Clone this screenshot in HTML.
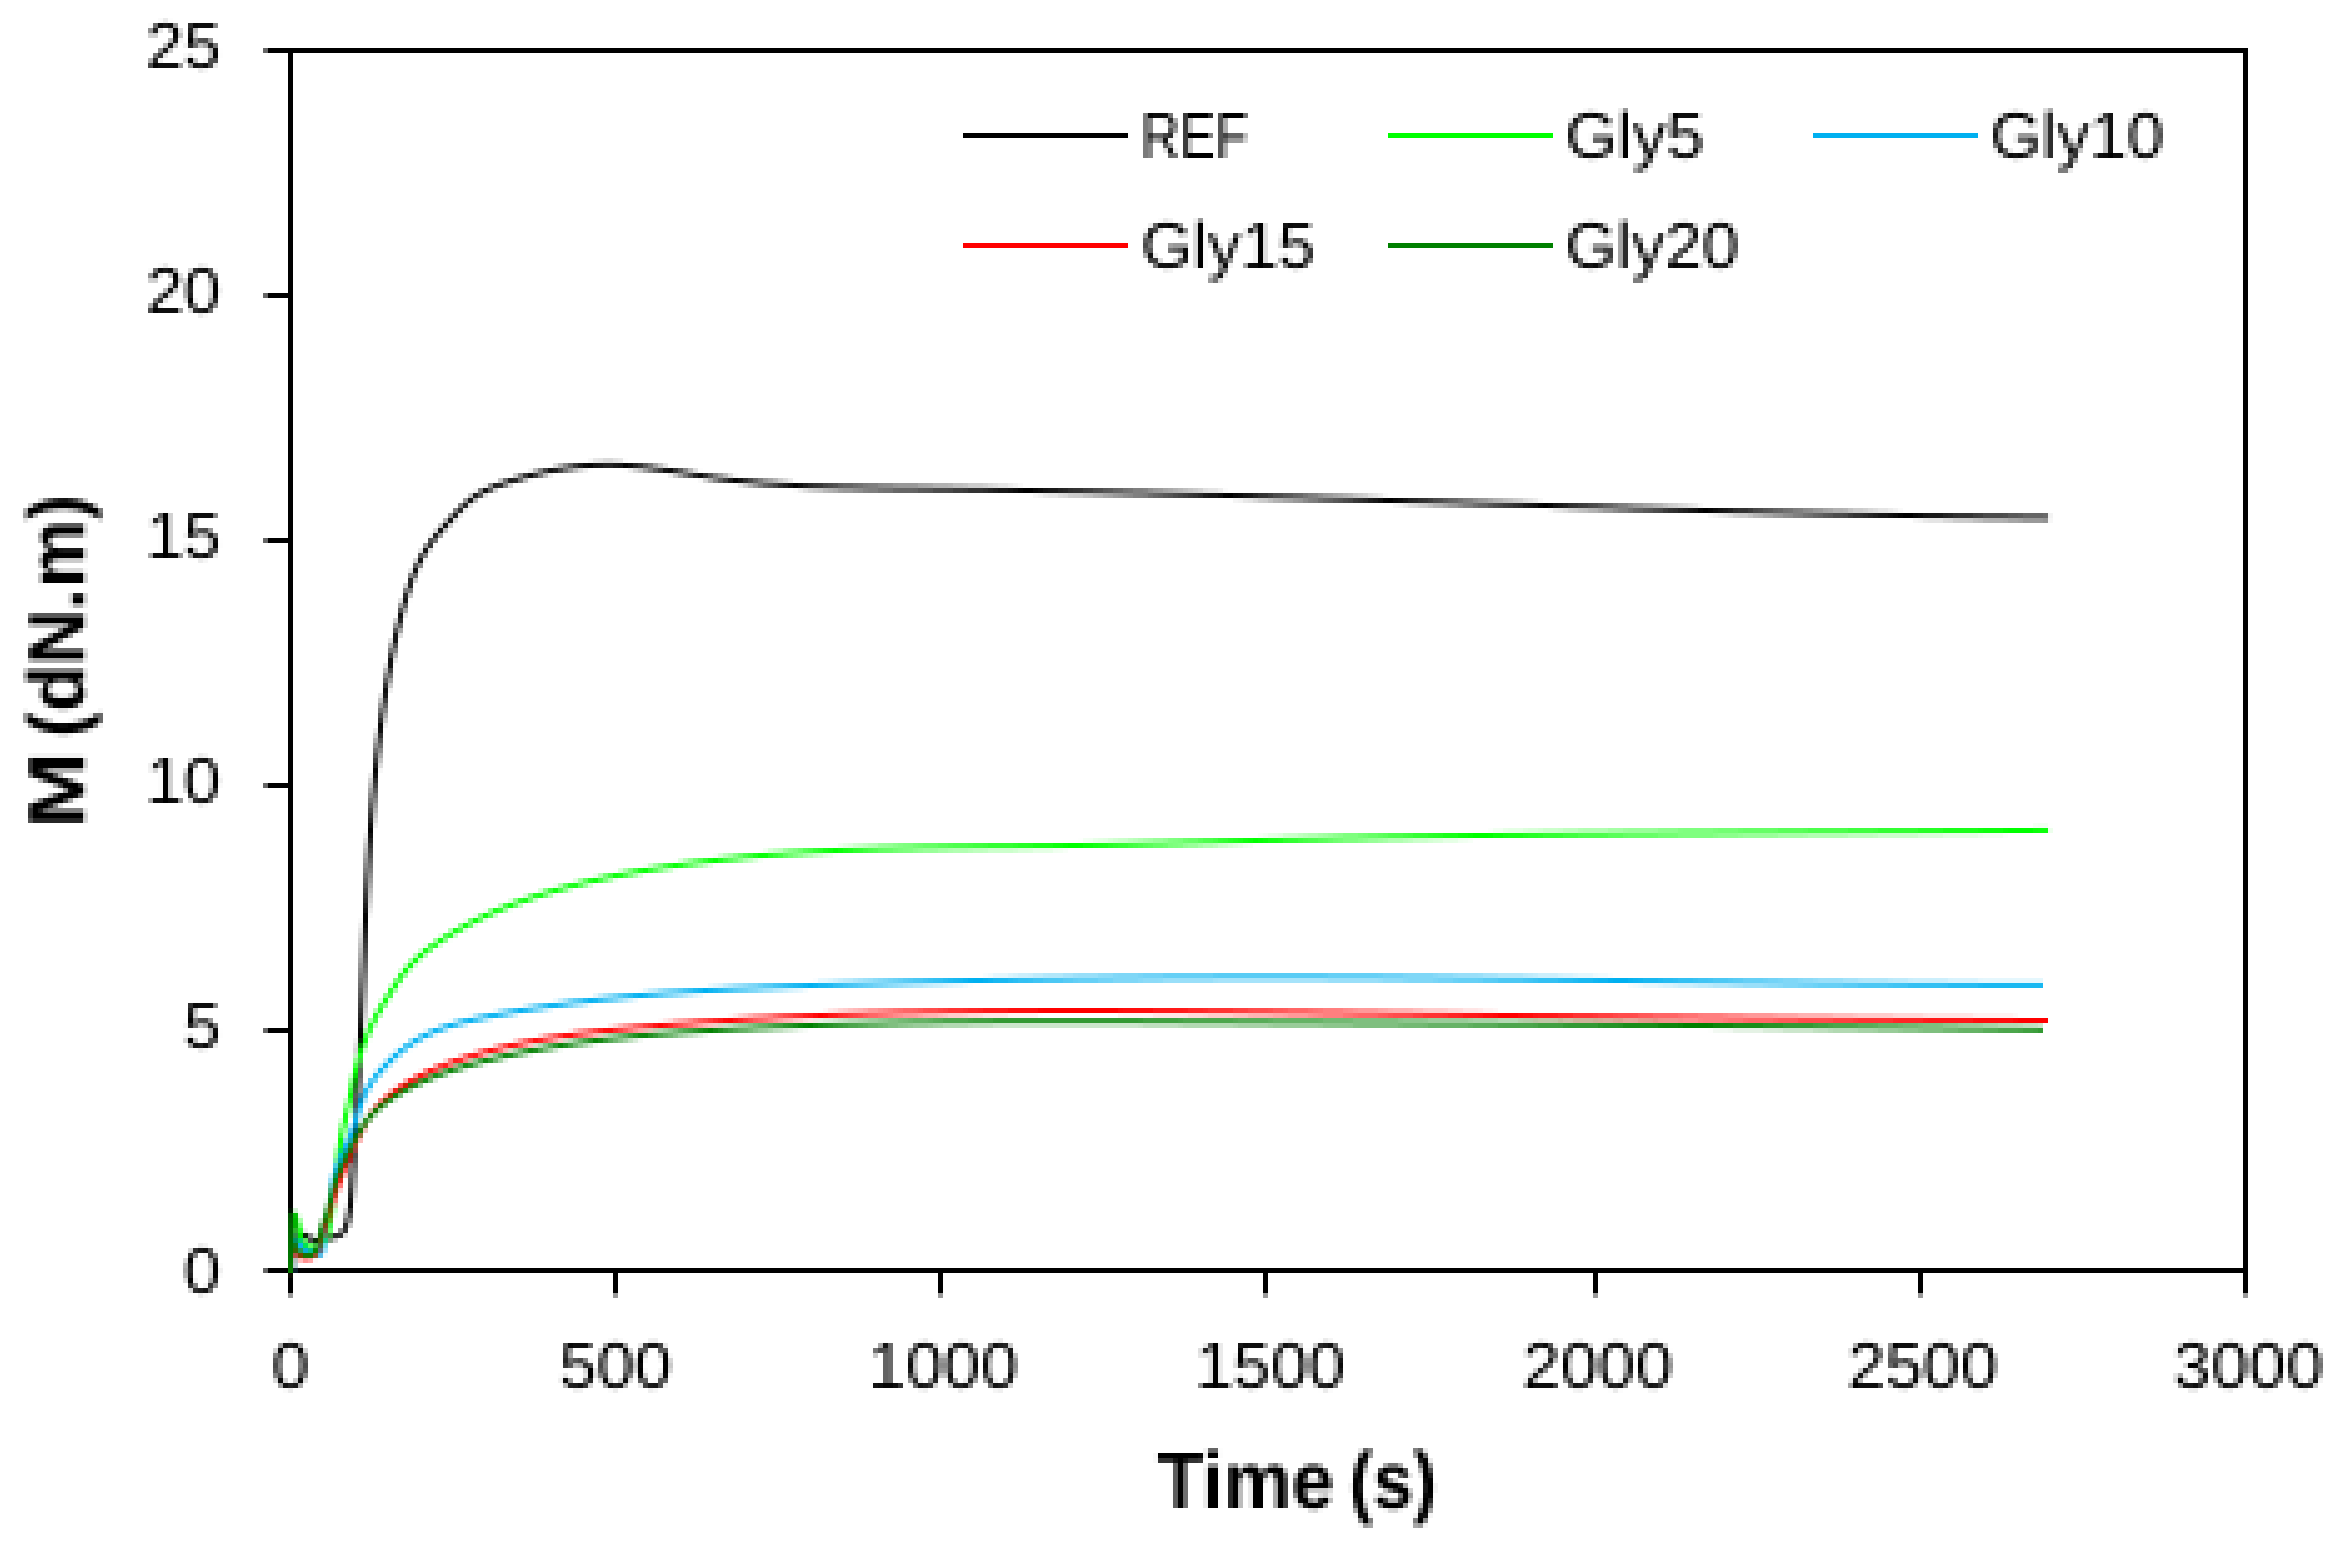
<!DOCTYPE html>
<html lang="en">
<head>
<meta charset="utf-8">
<title>Torque curves</title>
<style>
html,body{margin:0;padding:0;background:#fff;}
body{width:2346px;height:1543px;overflow:hidden;}
svg{display:block;}
text{font-family:"Liberation Sans", sans-serif;fill:#000;}
.tick{font-size:65.5px;}
.leg{font-size:65.5px;}
.ttl{font-size:80px;font-weight:bold;}
.ax{stroke:#000;stroke-width:5;fill:none;shape-rendering:crispEdges;}
.cv{fill:none;stroke-width:5;stroke-linejoin:round;stroke-linecap:butt;}
</style>
</head>
<body>
<svg width="2346" height="1543" viewBox="0 0 2346 1543">
<defs>
<filter id="pix" x="0" y="0" width="2346" height="1543" filterUnits="userSpaceOnUse" color-interpolation-filters="sRGB">
<feConvolveMatrix in="SourceGraphic" order="5 5" kernelMatrix="1 1 1 1 1 1 1 1 1 1 1 1 1 1 1 1 1 1 1 1 1 1 1 1 1" divisor="25" edgeMode="duplicate" preserveAlpha="false" result="avg"/>
<feFlood x="0" y="0" width="1" height="1" flood-color="#000" result="dot"/>
<feComposite in="dot" in2="dot" operator="over" x="0" y="0" width="5" height="5" result="cell"/>
<feTile in="cell" result="grid"/>
<feComposite in="avg" in2="grid" operator="in" result="samp"/>
<feMorphology in="samp" operator="dilate" radius="2"/>
</filter>
</defs>
<g filter="url(#pix)">
<rect x="0" y="0" width="2346" height="1543" fill="#ffffff"/>
<g id="axes">
<rect x="288" y="48" width="5" height="1247" fill="#000"/>
<rect x="2243" y="48" width="5" height="1247" fill="#000"/>
<rect x="265" y="48" width="1983" height="5" fill="#000"/>
<rect x="265" y="1268" width="1983" height="5" fill="#000"/>
<rect x="265" y="293" width="25" height="5" fill="#000"/>
<rect x="265" y="538" width="25" height="5" fill="#000"/>
<rect x="265" y="783" width="25" height="5" fill="#000"/>
<rect x="265" y="1028" width="25" height="5" fill="#000"/>
<rect x="613" y="1270" width="5" height="25" fill="#000"/>
<rect x="938" y="1270" width="5" height="25" fill="#000"/>
<rect x="1263" y="1270" width="5" height="25" fill="#000"/>
<rect x="1593" y="1270" width="5" height="25" fill="#000"/>
<rect x="1918" y="1270" width="5" height="25" fill="#000"/>
</g>
<g id="curves">
<path class="cv" stroke="#000000" d="M290.5 1270.5L291.0 1269.0L291.5 1267.5L291.8 1265.9L291.9 1265.7L292.1 1264.4L292.3 1262.9L292.5 1261.4L292.5 1260.9L292.6 1259.8L292.8 1258.3L292.9 1256.8L292.9 1256.1L293.0 1255.3L293.1 1253.7L293.3 1252.2L293.4 1251.3L293.4 1250.7L293.7 1249.2L294.0 1247.7L294.3 1246.6L294.4 1246.2L294.8 1244.7L295.4 1243.2L296.0 1241.9L296.0 1241.7L296.8 1240.2L297.7 1238.8L298.8 1237.4L298.8 1237.3L299.9 1236.2L301.1 1235.3L302.4 1234.8L302.6 1234.7L303.7 1234.7L305.1 1235.1L306.4 1235.9L306.9 1236.2L307.8 1236.8L309.1 1237.7L310.5 1238.7L311.1 1239.1L311.8 1239.5L313.2 1240.0L314.7 1240.3L315.7 1240.4L316.2 1240.4L317.8 1240.4L319.3 1240.2L320.6 1240.0L320.9 1239.9L322.4 1239.6L323.9 1239.3L325.4 1239.0L325.5 1239.0L327.0 1238.7L328.5 1238.3L329.9 1238.0L330.1 1238.0L331.4 1237.6L332.9 1237.2L334.4 1236.8L334.8 1236.7L335.9 1236.3L337.4 1235.7L338.9 1235.1L339.4 1234.8L340.2 1234.4L341.5 1233.5L342.6 1232.5L343.1 1231.9L343.6 1231.4L344.4 1230.1L345.1 1228.8L345.6 1227.8L345.8 1227.3L346.4 1225.8L346.8 1224.3L347.2 1222.9L347.3 1222.7L347.7 1221.1L348.0 1219.4L348.3 1217.8L348.3 1217.8L348.6 1216.2L348.9 1214.6L349.2 1213.0L349.2 1212.8L349.4 1211.4L349.7 1209.8L349.9 1208.2L350.0 1207.8L350.1 1206.7L350.3 1205.1L350.5 1203.6L350.6 1202.9L350.7 1202.0L350.8 1200.5L351.0 1199.0L351.1 1198.1L351.1 1197.4L351.3 1195.9L351.4 1194.4L351.5 1193.3L351.5 1192.9L351.6 1191.4L351.7 1189.9L351.8 1188.6L351.8 1188.4L352.0 1186.9L352.1 1185.4L352.2 1183.9L352.2 1183.8L352.2 1182.4L352.3 1180.9L352.4 1179.4L352.5 1179.1L352.5 1177.9L352.6 1176.3L352.7 1174.8L352.8 1174.4L352.8 1173.3L352.9 1171.8L353.0 1170.3L353.1 1169.6L353.1 1168.8L353.2 1167.3L353.3 1165.8L353.4 1164.8L353.4 1164.3L353.5 1162.8L353.6 1161.2L353.7 1160.1L353.7 1159.7L353.8 1158.2L353.9 1156.7L353.9 1155.3L354.0 1155.2L354.0 1153.7L354.1 1152.1L354.2 1150.6L354.2 1150.5L354.3 1149.1L354.4 1147.6L354.5 1146.1L354.5 1145.7L354.6 1144.5L354.7 1143.0L354.8 1141.5L354.8 1140.9L354.9 1140.0L355.0 1138.4L355.1 1136.9L355.1 1136.1L355.1 1135.4L355.2 1133.8L355.3 1132.3L355.4 1131.3L355.4 1130.8L355.5 1129.3L355.6 1127.7L355.7 1126.5L355.7 1126.2L355.8 1124.7L355.9 1123.1L355.9 1121.7L355.9 1121.6L356.0 1120.1L356.1 1118.5L356.2 1117.0L356.2 1116.8L356.3 1115.5L356.4 1113.9L356.5 1112.4L356.5 1112.0L356.6 1110.9L356.6 1109.3L356.7 1107.8L356.8 1107.2L356.8 1106.3L356.9 1104.7L357.0 1103.2L357.0 1102.3L357.1 1101.6L357.2 1100.1L357.2 1098.6L357.3 1097.5L357.3 1097.0L357.4 1095.5L357.5 1093.9L357.6 1092.6L357.6 1092.4L357.7 1090.9L357.7 1089.3L357.8 1087.8L357.8 1087.8L357.9 1086.2L358.0 1084.7L358.1 1083.1L358.1 1082.9L358.1 1081.6L358.2 1080.1L358.3 1078.5L358.3 1078.0L358.4 1077.0L358.5 1075.4L358.6 1073.9L358.6 1073.2L358.6 1072.3L358.7 1070.8L358.8 1069.2L358.8 1068.3L358.9 1067.7L358.9 1066.1L359.0 1064.6L359.1 1063.4L359.1 1063.0L359.2 1061.5L359.3 1060.0L359.3 1058.6L359.3 1058.4L359.4 1056.9L359.5 1055.3L359.6 1053.8L359.6 1053.7L359.6 1052.2L359.7 1050.7L359.8 1049.1L359.8 1048.8L359.9 1047.6L359.9 1046.0L360.0 1044.5L360.0 1043.9L360.1 1042.9L360.2 1041.4L360.2 1039.8L360.3 1039.1L360.3 1038.3L360.4 1036.7L360.5 1035.2L360.5 1034.2L360.5 1033.6L360.6 1032.1L360.7 1030.5L360.7 1029.3L360.7 1029.0L360.8 1027.4L360.9 1025.9L361.0 1024.4L361.0 1024.3L361.0 1022.8L361.1 1021.2L361.2 1019.7L361.2 1019.5L361.2 1018.1L361.3 1016.6L361.4 1015.0L361.4 1014.7L361.4 1013.5L361.5 1011.9L361.6 1010.4L361.6 1009.8L361.6 1008.8L361.7 1007.3L361.8 1005.7L361.8 1004.9L361.8 1004.2L361.9 1002.6L362.0 1001.1L362.0 1000.0L362.0 999.6L362.1 998.0L362.2 996.5L362.2 995.2L362.2 994.9L362.3 993.4L362.4 991.8L362.4 990.3L362.4 990.3L362.5 988.7L362.6 987.2L362.6 985.6L362.6 985.4L362.7 984.1L362.8 982.5L362.8 981.0L362.8 980.5L362.9 979.4L362.9 977.9L363.0 976.3L363.0 975.7L363.1 974.8L363.1 973.2L363.2 971.7L363.2 970.8L363.3 970.1L363.3 968.6L363.4 967.0L363.4 965.9L363.5 965.5L363.5 963.9L363.6 962.4L363.7 961.0L363.7 960.9L363.7 959.3L363.8 957.8L363.9 956.2L363.9 956.2L363.9 954.7L364.0 953.1L364.1 951.6L364.1 951.3L364.1 950.0L364.2 948.5L364.2 946.9L364.3 946.4L364.3 945.4L364.4 943.8L364.4 942.3L364.5 941.5L364.5 940.7L364.6 939.2L364.6 937.6L364.7 936.7L364.7 936.1L364.8 934.6L364.9 933.0L364.9 931.8L364.9 931.5L365.0 929.9L365.1 928.4L365.1 926.9L365.1 926.8L365.2 925.3L365.3 923.7L365.3 922.2L365.3 922.1L365.4 920.6L365.5 919.1L365.5 917.6L365.6 917.2L365.6 916.0L365.8 912.3L366.0 907.5L366.3 902.6L366.5 897.8L366.7 892.9L367.0 888.0L367.3 883.2L367.5 878.3L367.8 873.5L368.1 868.6L368.3 863.7L368.6 858.9L368.9 854.0L369.2 849.2L369.5 844.3L369.9 839.5L370.2 834.6L370.5 829.8L370.9 824.9L371.3 820.1L371.6 815.3L372.0 810.4L372.4 805.6L372.8 800.7L373.2 795.9L373.6 791.1L374.1 786.2L374.5 781.4L375.0 776.6L375.5 771.7L376.0 766.9L376.5 762.1L377.0 757.3L377.5 752.5L378.1 747.6L378.6 742.8L379.2 738.0L379.8 733.2L380.4 728.4L381.0 723.6L381.7 718.8L382.3 713.9L383.0 709.1L383.7 704.3L384.4 699.5L385.1 694.7L385.9 689.9L386.6 685.2L387.4 680.4L388.2 675.6L389.1 670.8L389.9 666.0L390.8 661.2L391.7 656.4L392.7 651.7L393.6 646.9L394.6 642.1L395.7 637.4L396.7 632.6L397.9 627.9L399.0 623.1L400.2 618.4L401.4 613.6L402.7 608.9L404.0 604.2L405.3 599.4L406.7 594.7L408.2 590.0L409.7 585.3L411.3 580.7L413.0 576.1L414.8 571.6L416.8 567.2L418.8 562.8L421.0 558.5L423.3 554.3L425.8 550.2L428.4 546.2L431.2 542.4L434.1 538.6L437.2 534.8L440.3 531.1L443.5 527.5L446.8 523.8L450.1 520.2L453.4 516.5L456.8 512.8L460.2 509.2L463.8 505.8L467.4 502.5L471.2 499.4L475.1 496.7L479.1 494.1L483.3 491.8L487.5 489.7L491.9 487.8L496.3 486.0L500.8 484.4L505.4 482.8L510.0 481.4L514.6 479.9L519.3 478.5L524.0 477.2L528.7 475.9L533.4 474.7L538.2 473.6L543.0 472.4L547.8 471.4L552.6 470.4L557.4 469.5L562.2 468.7L567.1 467.9L571.9 467.2L576.8 466.6L581.7 466.1L586.5 465.7L591.4 465.3L596.3 465.1L601.1 464.9L606.0 464.8L610.8 464.8L615.7 464.9L620.5 465.1L625.4 465.4L630.2 465.7L635.0 466.2L639.8 466.6L644.6 467.2L649.5 467.8L654.3 468.4L659.1 469.1L663.9 469.8L668.7 470.5L673.5 471.2L678.3 472.0L683.1 472.8L687.9 473.6L692.7 474.4L697.5 475.1L702.3 475.9L707.1 476.6L711.9 477.4L716.8 478.1L721.6 478.7L726.4 479.3L731.2 479.9L736.0 480.5L740.9 481.1L745.7 481.6L750.5 482.1L755.3 482.5L760.2 483.0L765.0 483.4L769.8 483.8L774.7 484.1L779.5 484.5L784.4 484.8L789.2 485.1L794.1 485.4L798.9 485.7L803.8 485.9L808.6 486.2L813.5 486.4L818.3 486.6L823.2 486.8L828.0 486.9L832.9 487.1L837.7 487.3L842.6 487.4L847.5 487.5L852.3 487.6L857.2 487.7L862.0 487.8L866.9 487.9L871.8 488.0L876.6 488.1L881.5 488.2L886.4 488.2L891.2 488.3L896.1 488.4L901.0 488.4L905.8 488.5L910.7 488.6L915.6 488.6L920.4 488.7L925.3 488.7L930.2 488.8L935.0 488.9L939.9 488.9L944.8 489.0L949.6 489.1L954.5 489.2L959.3 489.2L964.2 489.3L969.1 489.4L973.9 489.5L978.8 489.6L983.7 489.6L988.5 489.7L993.4 489.8L998.3 489.9L1003.1 490.0L1008.0 490.1L1012.9 490.2L1017.7 490.3L1022.6 490.4L1027.4 490.5L1032.3 490.6L1037.2 490.7L1042.0 490.8L1046.9 490.9L1051.8 491.0L1056.6 491.1L1061.5 491.2L1066.4 491.3L1071.2 491.4L1076.1 491.5L1080.9 491.6L1085.8 491.7L1090.7 491.8L1095.5 491.9L1100.4 492.1L1105.3 492.2L1110.1 492.3L1115.0 492.4L1119.9 492.5L1124.7 492.7L1129.6 492.8L1134.4 492.9L1139.3 493.0L1144.2 493.1L1149.0 493.3L1153.9 493.4L1158.8 493.5L1163.6 493.7L1168.5 493.8L1173.3 493.9L1178.2 494.1L1183.1 494.2L1187.9 494.3L1192.8 494.5L1197.6 494.6L1202.5 494.7L1207.4 494.9L1212.2 495.0L1217.1 495.1L1222.0 495.3L1226.8 495.4L1231.7 495.6L1236.5 495.7L1241.4 495.8L1246.3 496.0L1251.1 496.1L1256.0 496.3L1260.8 496.4L1265.7 496.6L1270.6 496.7L1275.4 496.9L1280.3 497.0L1285.2 497.2L1290.0 497.3L1294.9 497.5L1299.7 497.6L1304.6 497.8L1309.5 497.9L1314.3 498.1L1319.2 498.2L1324.0 498.4L1328.9 498.5L1333.8 498.7L1338.6 498.8L1343.5 499.0L1348.3 499.1L1353.2 499.3L1358.1 499.4L1362.9 499.6L1367.8 499.7L1372.7 499.9L1377.5 500.1L1382.4 500.2L1387.2 500.4L1392.1 500.5L1397.0 500.7L1401.8 500.8L1406.7 501.0L1411.5 501.2L1416.4 501.3L1421.3 501.5L1426.1 501.6L1431.0 501.8L1435.8 502.0L1440.7 502.1L1445.6 502.3L1450.4 502.4L1455.3 502.6L1460.1 502.7L1465.0 502.9L1469.9 503.1L1474.7 503.2L1479.6 503.4L1484.4 503.5L1489.3 503.7L1494.2 503.9L1499.0 504.0L1503.9 504.2L1508.7 504.3L1513.6 504.5L1518.5 504.6L1523.3 504.8L1528.2 505.0L1533.0 505.1L1537.9 505.3L1542.8 505.4L1547.6 505.6L1552.5 505.8L1557.3 505.9L1562.2 506.1L1567.1 506.2L1571.9 506.4L1576.8 506.5L1581.7 506.7L1586.5 506.8L1591.4 507.0L1596.2 507.1L1601.1 507.3L1606.0 507.5L1610.8 507.6L1615.7 507.8L1620.5 507.9L1625.4 508.1L1630.3 508.2L1635.1 508.4L1640.0 508.5L1644.8 508.7L1649.7 508.8L1654.6 509.0L1659.4 509.1L1664.3 509.3L1669.1 509.4L1674.0 509.5L1678.9 509.7L1683.7 509.8L1688.6 510.0L1693.4 510.1L1698.3 510.3L1703.2 510.4L1708.0 510.5L1712.9 510.7L1717.8 510.8L1722.6 511.0L1727.5 511.1L1732.3 511.2L1737.2 511.4L1742.1 511.5L1746.9 511.6L1751.8 511.8L1756.6 511.9L1761.5 512.0L1766.4 512.2L1771.2 512.3L1776.1 512.4L1780.9 512.6L1785.8 512.7L1790.7 512.8L1795.5 512.9L1800.4 513.1L1805.3 513.2L1810.1 513.3L1815.0 513.4L1819.8 513.5L1824.7 513.7L1829.6 513.8L1834.4 513.9L1839.3 514.0L1844.2 514.1L1849.0 514.2L1853.9 514.4L1858.7 514.5L1863.6 514.6L1868.5 514.7L1873.3 514.8L1878.2 514.9L1883.0 515.0L1887.9 515.1L1892.8 515.2L1897.6 515.3L1902.5 515.4L1907.4 515.5L1912.2 515.6L1917.1 515.7L1922.0 515.8L1926.8 515.9L1931.7 516.0L1936.5 516.1L1941.4 516.1L1946.3 516.2L1951.1 516.3L1956.0 516.4L1960.9 516.5L1965.7 516.6L1970.6 516.6L1975.4 516.7L1980.3 516.8L1985.2 516.9L1990.0 516.9L1994.9 517.0L1999.8 517.1L2004.6 517.1L2009.5 517.2L2014.4 517.3L2019.2 517.3L2024.1 517.4L2029.0 517.5L2033.8 517.5L2038.7 517.6L2043.5 517.6L2048.4 517.7"/>
<path class="cv" stroke="#00ff00" d="M290.5 1270.5L290.8 1270.7L291.0 1270.7L291.1 1270.4L291.2 1270.3L291.4 1269.6L291.5 1268.7L291.6 1268.3L291.7 1267.5L291.8 1266.1L291.9 1264.4L291.9 1264.4L292.0 1262.6L292.1 1260.7L292.2 1259.2L292.2 1258.6L292.3 1256.3L292.3 1254.0L292.3 1253.0L292.4 1251.5L292.4 1249.0L292.5 1246.4L292.5 1246.2L292.5 1243.9L292.6 1241.3L292.6 1239.3L292.6 1238.7L292.7 1236.1L292.7 1233.6L292.8 1232.5L292.8 1231.1L292.9 1228.8L293.0 1226.5L293.0 1226.3L293.1 1224.4L293.2 1222.4L293.3 1221.0L293.3 1220.6L293.5 1219.0L293.6 1217.6L293.7 1217.0L293.8 1216.4L294.0 1215.4L294.3 1214.7L294.3 1214.7L294.5 1214.3L294.8 1214.2L295.1 1214.4L295.1 1214.5L295.5 1215.0L295.9 1216.0L296.1 1216.6L296.3 1217.2L296.7 1218.6L297.1 1220.2L297.2 1220.5L297.5 1221.9L297.9 1223.6L298.3 1225.0L298.3 1225.2L298.7 1226.8L299.1 1228.4L299.3 1229.2L299.4 1229.9L299.8 1231.4L300.2 1232.9L300.2 1233.3L300.6 1234.4L301.0 1235.9L301.4 1237.3L301.5 1237.4L302.0 1238.9L302.6 1240.3L303.0 1241.1L303.4 1241.7L304.2 1243.0L305.1 1244.1L305.4 1244.5L306.2 1245.2L307.5 1246.1L308.7 1246.9L308.8 1246.9L310.2 1247.5L311.7 1247.8L312.7 1247.9L313.2 1247.9L314.8 1247.8L316.4 1247.5L316.8 1247.4L317.9 1247.1L319.4 1246.5L320.8 1245.7L320.8 1245.7L322.1 1244.8L323.2 1243.8L323.9 1243.0L324.3 1242.6L325.1 1241.4L325.9 1240.1L326.1 1239.6L326.5 1238.7L327.0 1237.2L327.4 1235.7L327.4 1235.7L327.7 1234.2L328.0 1232.7L328.2 1231.6L328.3 1231.1L328.6 1229.6L328.8 1228.1L329.0 1227.5L329.1 1226.5L329.4 1225.0L329.6 1223.5L329.7 1223.4L329.9 1222.0L330.2 1220.4L330.3 1219.3L330.4 1218.9L330.6 1217.4L330.9 1215.9L331.0 1215.2L331.1 1214.3L331.3 1212.8L331.6 1211.3L331.6 1211.1L331.8 1209.8L332.0 1208.2L332.2 1207.0L332.2 1206.7L332.4 1205.2L332.6 1203.7L332.7 1202.9L332.8 1202.1L333.0 1200.6L333.2 1199.1L333.2 1198.8L333.4 1197.5L333.6 1196.0L333.7 1194.7L333.7 1194.5L333.9 1192.9L334.1 1191.4L334.2 1190.6L334.3 1189.9L334.4 1188.3L334.6 1186.8L334.7 1186.5L334.8 1185.3L335.0 1183.7L335.1 1182.4L335.1 1182.2L335.3 1180.7L335.5 1179.1L335.6 1178.3L335.6 1177.6L335.8 1176.0L336.0 1174.5L336.0 1174.2L336.2 1173.0L336.3 1171.4L336.5 1170.0L336.5 1169.9L336.7 1168.4L336.9 1166.8L337.0 1165.9L337.1 1165.3L337.3 1163.8L337.5 1162.2L337.5 1161.8L337.7 1160.7L337.9 1159.2L338.1 1157.7L338.1 1157.6L338.3 1156.1L338.5 1154.6L338.6 1153.6L338.7 1153.1L338.9 1151.5L339.2 1150.0L339.2 1149.5L339.4 1148.5L339.6 1146.9L339.9 1145.4L339.9 1145.4L340.1 1143.9L340.4 1142.4L340.6 1141.4L340.7 1140.9L340.9 1139.3L341.2 1137.8L341.3 1137.3L341.5 1136.3L341.8 1134.8L342.1 1133.3L342.1 1133.2L342.4 1131.8L342.7 1130.3L342.9 1129.2L343.0 1128.7L343.3 1127.2L343.7 1125.7L343.8 1125.1L344.0 1124.2L344.4 1122.7L344.7 1121.2L344.7 1121.1L345.1 1119.7L345.4 1118.2L345.7 1117.1L345.8 1116.7L346.1 1115.2L346.5 1113.7L346.7 1113.0L346.9 1112.2L347.2 1110.7L347.6 1109.2L347.6 1109.0L347.9 1107.7L348.3 1106.2L348.5 1105.0L348.6 1104.6L348.9 1103.1L349.3 1101.6L349.4 1100.9L349.6 1100.1L349.9 1098.6L350.2 1097.1L350.3 1096.9L350.5 1095.6L350.9 1094.1L351.1 1092.8L351.2 1092.5L351.5 1091.0L351.8 1089.5L351.9 1088.7L352.1 1088.0L352.4 1086.5L352.7 1085.0L352.7 1084.7L353.0 1083.5L353.3 1081.9L353.6 1080.6L353.6 1080.4L353.9 1078.9L354.3 1077.4L354.4 1076.6L354.6 1075.9L354.9 1074.4L355.2 1072.9L355.3 1072.6L355.6 1071.4L355.9 1069.9L356.2 1068.5L356.3 1068.4L356.6 1066.9L357.0 1065.4L357.2 1064.5L357.4 1063.9L357.8 1062.4L358.2 1060.9L358.3 1060.5L358.6 1059.5L359.0 1058.0L359.4 1056.6L359.4 1056.5L359.9 1055.0L360.3 1053.5L360.6 1052.6L360.8 1052.1L361.3 1050.6L361.8 1049.2L361.9 1048.7L362.3 1047.7L362.8 1046.2L363.3 1044.8L363.3 1044.8L363.8 1043.4L364.4 1041.9L364.7 1041.0L364.9 1040.5L365.5 1039.0L366.1 1037.6L366.3 1037.1L366.6 1036.2L367.2 1034.8L367.8 1033.3L367.9 1033.3L368.5 1031.9L369.1 1030.5L369.5 1029.5L369.7 1029.1L370.4 1027.7L371.0 1026.3L371.3 1025.8L371.7 1024.9L372.4 1023.6L373.1 1022.2L373.1 1022.1L373.8 1020.8L374.5 1019.4L375.0 1018.4L375.2 1018.1L375.9 1016.7L376.7 1015.3L377.0 1014.8L377.4 1014.0L378.2 1012.7L379.0 1011.3L379.0 1011.2L379.7 1010.0L380.5 1008.6L381.1 1007.6L381.3 1007.3L382.1 1006.0L382.9 1004.7L383.3 1004.1L383.7 1003.3L384.5 1002.0L385.3 1000.7L385.4 1000.5L386.1 999.4L387.0 998.1L387.6 997.0L387.8 996.8L388.6 995.5L389.4 994.2L389.9 993.5L390.3 992.9L391.1 991.6L391.9 990.3L392.1 990.0L392.8 989.0L393.6 987.7L394.3 986.5L394.4 986.4L395.3 985.1L396.1 983.8L396.6 983.1L397.0 982.5L397.8 981.2L398.7 980.0L398.9 979.7L399.6 978.7L400.5 977.5L401.3 976.3L401.4 976.2L402.3 975.0L403.2 973.8L403.7 973.0L404.1 972.5L405.0 971.3L406.0 970.1L406.3 969.8L407.0 969.0L408.0 967.8L408.9 966.7L411.7 963.7L414.6 960.8L417.6 958.0L420.7 955.3L423.9 952.6L427.2 950.1L430.5 947.6L433.9 945.2L437.4 942.8L440.8 940.5L444.3 938.2L447.8 936.0L451.3 933.8L454.9 931.7L458.5 929.7L462.1 927.6L465.7 925.7L469.3 923.7L473.0 921.8L476.7 920.0L480.4 918.2L484.1 916.4L487.9 914.7L491.7 913.0L495.4 911.4L499.2 909.8L503.1 908.2L506.9 906.7L510.7 905.2L514.6 903.7L518.5 902.3L522.4 900.9L526.3 899.6L530.2 898.2L534.1 896.9L538.0 895.6L542.0 894.4L545.9 893.2L549.9 892.0L553.9 890.8L557.8 889.7L561.8 888.6L565.8 887.5L569.8 886.4L573.8 885.4L577.8 884.4L581.8 883.4L585.9 882.4L589.9 881.4L593.9 880.5L598.0 879.6L602.0 878.7L606.1 877.8L610.1 877.0L614.2 876.1L618.2 875.3L622.3 874.5L626.4 873.7L630.4 873.0L634.5 872.2L638.6 871.5L642.7 870.8L646.7 870.1L650.8 869.4L654.9 868.7L659.0 868.1L663.1 867.4L667.2 866.8L671.3 866.2L675.4 865.6L679.5 865.0L683.6 864.4L687.7 863.8L691.8 863.3L695.9 862.7L700.0 862.2L704.1 861.7L708.2 861.2L712.3 860.7L716.4 860.2L720.5 859.7L724.7 859.3L728.8 858.8L732.9 858.4L737.0 857.9L741.1 857.5L745.2 857.1L749.3 856.7L753.5 856.3L757.6 855.9L761.7 855.6L765.8 855.2L769.9 854.8L774.1 854.5L778.2 854.2L782.3 853.9L786.4 853.5L790.5 853.2L794.7 852.9L798.8 852.7L802.9 852.4L807.1 852.1L811.2 851.9L815.3 851.6L819.4 851.4L823.6 851.1L827.7 850.9L831.8 850.7L836.0 850.5L840.1 850.3L844.2 850.1L848.4 849.9L852.5 849.7L856.6 849.5L860.8 849.4L864.9 849.2L869.0 849.1L873.2 848.9L877.3 848.8L881.4 848.6L885.6 848.5L889.7 848.4L893.8 848.3L898.0 848.2L902.1 848.1L906.2 848.0L910.4 847.9L914.5 847.8L918.7 847.7L922.8 847.6L926.9 847.5L931.1 847.4L935.2 847.4L939.4 847.3L943.5 847.2L947.6 847.2L951.8 847.1L955.9 847.0L960.0 847.0L964.2 846.9L968.3 846.9L972.5 846.8L976.6 846.8L980.8 846.7L984.9 846.7L989.0 846.6L993.2 846.6L997.3 846.5L1001.5 846.5L1005.6 846.5L1009.7 846.4L1013.9 846.4L1018.0 846.3L1022.2 846.3L1026.3 846.2L1030.4 846.2L1034.6 846.1L1038.7 846.1L1042.9 846.0L1047.0 846.0L1051.1 845.9L1055.3 845.8L1059.4 845.8L1063.6 845.7L1067.7 845.6L1071.8 845.6L1076.0 845.5L1080.1 845.4L1084.3 845.3L1088.4 845.3L1092.5 845.2L1096.7 845.1L1100.8 845.0L1104.9 844.9L1109.1 844.8L1113.2 844.7L1117.4 844.6L1121.5 844.5L1125.6 844.4L1129.8 844.3L1133.9 844.2L1138.0 844.1L1142.2 844.0L1146.3 843.8L1150.5 843.7L1154.6 843.6L1158.7 843.5L1162.9 843.4L1167.0 843.2L1171.1 843.1L1175.3 843.0L1179.4 842.9L1183.5 842.7L1187.7 842.6L1191.8 842.5L1196.0 842.4L1200.1 842.2L1204.2 842.1L1208.4 842.0L1212.5 841.9L1216.6 841.7L1220.8 841.6L1224.9 841.5L1229.0 841.3L1233.2 841.2L1237.3 841.1L1241.4 841.0L1245.6 840.8L1249.7 840.7L1253.9 840.6L1258.0 840.5L1262.1 840.3L1266.3 840.2L1270.4 840.1L1274.5 840.0L1278.7 839.9L1282.8 839.7L1286.9 839.6L1291.1 839.5L1295.2 839.4L1299.4 839.3L1303.5 839.2L1307.6 839.1L1311.8 839.0L1315.9 838.9L1320.0 838.8L1324.2 838.7L1328.3 838.5L1332.4 838.4L1336.6 838.3L1340.7 838.2L1344.9 838.1L1349.0 838.1L1353.1 838.0L1357.3 837.9L1361.4 837.8L1365.5 837.7L1369.7 837.6L1373.8 837.5L1378.0 837.4L1382.1 837.3L1386.2 837.2L1390.4 837.1L1394.5 837.1L1398.6 837.0L1402.8 836.9L1406.9 836.8L1411.1 836.7L1415.2 836.6L1419.3 836.6L1423.5 836.5L1427.6 836.4L1431.7 836.3L1435.9 836.3L1440.0 836.2L1444.2 836.1L1448.3 836.0L1452.4 836.0L1456.6 835.9L1460.7 835.8L1464.9 835.8L1469.0 835.7L1473.1 835.6L1477.3 835.6L1481.4 835.5L1485.5 835.4L1489.7 835.4L1493.8 835.3L1498.0 835.2L1502.1 835.2L1506.2 835.1L1510.4 835.1L1514.5 835.0L1518.7 834.9L1522.8 834.9L1526.9 834.8L1531.1 834.8L1535.2 834.7L1539.3 834.7L1543.5 834.6L1547.6 834.5L1551.8 834.5L1555.9 834.4L1560.0 834.4L1564.2 834.3L1568.3 834.3L1572.5 834.2L1576.6 834.2L1580.7 834.1L1584.9 834.1L1589.0 834.0L1593.1 834.0L1597.3 834.0L1601.4 833.9L1605.6 833.9L1609.7 833.8L1613.8 833.8L1618.0 833.7L1622.1 833.7L1626.3 833.6L1630.4 833.6L1634.5 833.6L1638.7 833.5L1642.8 833.5L1647.0 833.4L1651.1 833.4L1655.2 833.4L1659.4 833.3L1663.5 833.3L1667.7 833.2L1671.8 833.2L1675.9 833.2L1680.1 833.1L1684.2 833.1L1688.3 833.1L1692.5 833.0L1696.6 833.0L1700.8 833.0L1704.9 832.9L1709.0 832.9L1713.2 832.9L1717.3 832.8L1721.5 832.8L1725.6 832.8L1729.7 832.7L1733.9 832.7L1738.0 832.7L1742.2 832.6L1746.3 832.6L1750.4 832.6L1754.6 832.5L1758.7 832.5L1762.8 832.5L1767.0 832.4L1771.1 832.4L1775.3 832.4L1779.4 832.3L1783.5 832.3L1787.7 832.3L1791.8 832.3L1796.0 832.2L1800.1 832.2L1804.2 832.2L1808.4 832.1L1812.5 832.1L1816.7 832.1L1820.8 832.0L1824.9 832.0L1829.1 832.0L1833.2 832.0L1837.4 831.9L1841.5 831.9L1845.6 831.9L1849.8 831.8L1853.9 831.8L1858.0 831.8L1862.2 831.7L1866.3 831.7L1870.5 831.7L1874.6 831.7L1878.7 831.6L1882.9 831.6L1887.0 831.6L1891.2 831.5L1895.3 831.5L1899.4 831.5L1903.6 831.4L1907.7 831.4L1911.8 831.4L1916.0 831.4L1920.1 831.3L1924.3 831.3L1928.4 831.3L1932.5 831.2L1936.7 831.2L1940.8 831.2L1945.0 831.1L1949.1 831.1L1953.2 831.1L1957.4 831.0L1961.5 831.0L1965.6 831.0L1969.8 830.9L1973.9 830.9L1978.1 830.9L1982.2 830.8L1986.3 830.8L1990.5 830.8L1994.6 830.7L1998.7 830.7L2002.9 830.7L2007.0 830.6L2011.2 830.6L2015.3 830.5L2019.4 830.5L2023.6 830.5L2027.7 830.4L2031.8 830.4L2036.0 830.3L2040.1 830.3L2044.3 830.3L2048.4 830.2"/>
<path class="cv" stroke="#00b0f0" d="M290.5 1270.5L291.0 1271.2L291.4 1271.2L291.5 1271.0L291.7 1270.7L291.9 1269.8L292.1 1268.4L292.1 1268.3L292.2 1266.6L292.3 1264.6L292.3 1263.4L292.3 1262.3L292.4 1259.9L292.4 1257.3L292.4 1257.2L292.4 1254.7L292.5 1252.1L292.5 1250.7L292.6 1249.6L292.7 1247.2L292.9 1245.0L292.9 1244.8L293.1 1243.0L293.5 1241.4L293.7 1240.6L293.9 1240.1L294.4 1239.3L295.0 1238.9L295.1 1238.9L295.8 1239.1L296.6 1239.9L297.2 1240.6L297.6 1241.1L298.6 1242.4L299.7 1243.9L299.8 1244.1L300.8 1245.3L301.9 1246.6L302.6 1247.3L303.0 1247.7L304.1 1248.6L305.3 1249.5L305.5 1249.6L306.6 1250.3L308.0 1251.0L308.9 1251.5L309.4 1251.7L311.0 1252.5L312.7 1253.2L313.0 1253.3L314.3 1253.8L316.0 1254.3L317.1 1254.5L317.6 1254.5L319.0 1254.5L320.2 1254.2L320.4 1254.0L321.1 1253.4L321.8 1252.3L322.1 1251.3L322.3 1250.9L322.6 1249.3L322.8 1247.6L322.8 1247.1L322.9 1245.8L323.0 1244.0L323.1 1242.6L323.1 1242.2L323.3 1240.6L323.5 1239.0L323.6 1238.5L323.7 1237.4L324.0 1235.9L324.2 1234.7L324.2 1234.4L324.5 1233.0L324.8 1231.5L324.9 1231.1L325.1 1230.1L325.4 1228.7L325.6 1227.5L325.7 1227.2L326.0 1225.8L326.2 1224.3L326.3 1223.8L326.5 1222.8L326.8 1221.3L327.1 1220.1L327.1 1219.8L327.4 1218.3L327.7 1216.8L327.8 1216.3L328.0 1215.3L328.2 1213.8L328.5 1212.4L328.5 1212.2L328.8 1210.7L329.0 1209.1L329.1 1208.6L329.3 1207.6L329.6 1206.0L329.8 1204.6L329.8 1204.5L330.0 1202.9L330.3 1201.4L330.4 1200.7L330.5 1199.8L330.7 1198.3L331.0 1196.8L331.0 1196.7L331.2 1195.2L331.4 1193.6L331.5 1192.9L331.6 1192.1L331.9 1190.5L332.1 1189.1L332.1 1189.0L332.3 1187.5L332.6 1185.9L332.7 1185.2L332.8 1184.4L333.1 1182.9L333.3 1181.4L333.3 1181.4L333.6 1179.9L333.9 1178.4L334.1 1177.6L334.3 1176.9L334.6 1175.4L335.0 1173.9L335.0 1173.9L335.4 1172.4L335.8 1170.9L336.0 1170.2L336.3 1169.5L336.7 1168.0L337.2 1166.6L337.2 1166.5L337.7 1165.1L338.3 1163.7L338.6 1162.9L338.8 1162.2L339.4 1160.8L340.0 1159.4L340.0 1159.3L340.6 1158.0L341.2 1156.5L341.5 1155.7L341.8 1155.1L342.4 1153.7L343.0 1152.3L343.1 1152.2L343.7 1150.9L344.3 1149.5L344.7 1148.6L345.0 1148.0L345.6 1146.6L346.3 1145.2L346.3 1145.0L346.9 1143.8L347.5 1142.4L347.9 1141.5L348.2 1140.9L348.8 1139.5L349.4 1138.1L349.5 1137.9L350.0 1136.7L350.6 1135.2L351.0 1134.3L351.2 1133.8L351.8 1132.3L352.3 1130.9L352.4 1130.6L352.9 1129.4L353.4 1128.0L353.7 1127.0L353.9 1126.5L354.4 1125.0L354.8 1123.5L354.9 1123.2L355.3 1122.1L355.7 1120.6L356.0 1119.5L356.2 1119.1L356.6 1117.6L357.0 1116.1L357.1 1115.8L357.5 1114.6L357.9 1113.1L358.2 1112.0L358.3 1111.6L358.8 1110.2L359.2 1108.7L359.3 1108.3L359.6 1107.2L360.1 1105.8L360.5 1104.6L360.6 1104.3L361.1 1102.9L361.6 1101.4L361.7 1101.0L362.1 1100.0L362.6 1098.6L363.1 1097.4L363.2 1097.2L363.8 1095.8L364.4 1094.4L364.6 1094.0L365.1 1093.0L365.8 1091.7L366.3 1090.6L366.5 1090.3L367.2 1089.0L368.0 1087.7L368.2 1087.2L368.8 1086.4L369.6 1085.1L370.3 1084.0L370.4 1083.8L371.3 1082.6L372.2 1081.3L372.5 1080.9L373.1 1080.1L374.0 1078.8L374.9 1077.8L375.0 1077.6L375.9 1076.4L376.9 1075.2L377.3 1074.7L377.9 1074.0L378.9 1072.8L379.9 1071.7L380.0 1071.6L381.0 1070.5L382.0 1069.3L382.5 1068.8L383.1 1068.1L384.2 1067.0L385.2 1065.9L385.2 1065.8L386.3 1064.7L387.4 1063.5L387.9 1063.0L388.5 1062.4L389.6 1061.3L390.7 1060.3L390.8 1060.2L391.9 1059.1L393.0 1058.0L393.6 1057.5L394.2 1057.0L395.4 1055.9L396.5 1054.9L396.5 1054.9L397.7 1053.8L398.9 1052.8L399.5 1052.3L400.1 1051.8L401.3 1050.8L402.5 1049.8L402.6 1049.8L403.8 1048.9L405.0 1047.9L405.7 1047.4L406.3 1047.0L407.5 1046.1L408.8 1045.2L408.8 1045.2L410.1 1044.3L411.3 1043.5L412.1 1043.0L412.6 1042.6L413.9 1041.8L415.2 1041.0L415.3 1040.9L416.5 1040.2L417.9 1039.4L418.7 1039.0L419.2 1038.7L420.5 1037.9L421.9 1037.2L422.0 1037.2L423.2 1036.5L424.6 1035.8L425.4 1035.4L426.0 1035.2L427.3 1034.5L428.7 1033.8L428.9 1033.8L430.1 1033.2L431.5 1032.6L432.4 1032.2L432.9 1032.0L434.3 1031.4L435.7 1030.8L435.9 1030.7L437.1 1030.3L438.5 1029.7L439.5 1029.3L440.0 1029.2L441.4 1028.6L442.8 1028.1L443.1 1028.0L444.3 1027.6L445.7 1027.1L446.7 1026.8L447.2 1026.6L448.6 1026.2L450.1 1025.7L450.4 1025.6L451.6 1025.3L453.0 1024.8L454.1 1024.5L454.5 1024.4L456.0 1024.0L457.5 1023.5L457.8 1023.4L458.9 1023.1L460.4 1022.7L461.5 1022.4L461.9 1022.3L463.4 1022.0L464.9 1021.6L465.3 1021.5L466.4 1021.2L467.9 1020.9L469.1 1020.6L469.4 1020.5L470.9 1020.2L472.4 1019.8L472.9 1019.7L473.9 1019.5L475.4 1019.1L476.7 1018.9L477.0 1018.8L478.5 1018.5L480.0 1018.2L480.5 1018.1L481.5 1017.8L483.0 1017.5L484.3 1017.3L484.5 1017.2L486.1 1016.9L487.6 1016.6L488.1 1016.5L489.1 1016.3L490.6 1016.0L491.9 1015.8L492.2 1015.7L493.7 1015.4L495.2 1015.1L495.8 1015.0L496.7 1014.9L498.2 1014.6L499.6 1014.3L499.8 1014.3L501.3 1014.0L502.8 1013.7L503.4 1013.6L504.3 1013.4L505.9 1013.2L507.3 1012.9L507.4 1012.9L511.1 1012.2L514.9 1011.6L518.8 1010.9L522.6 1010.3L526.4 1009.6L530.3 1009.0L534.1 1008.4L538.0 1007.8L541.8 1007.2L545.6 1006.6L549.5 1006.0L553.3 1005.5L557.2 1004.9L561.0 1004.4L564.9 1003.9L568.7 1003.3L572.6 1002.8L576.4 1002.3L580.3 1001.9L584.1 1001.4L588.0 1000.9L591.8 1000.5L595.7 1000.0L599.6 999.6L603.4 999.1L607.3 998.7L611.1 998.3L615.0 997.9L618.8 997.5L622.7 997.1L626.6 996.7L630.4 996.3L634.3 996.0L638.2 995.6L642.0 995.3L645.9 994.9L649.8 994.6L653.6 994.3L657.5 994.0L661.4 993.6L665.2 993.3L669.1 993.0L673.0 992.7L676.8 992.5L680.7 992.2L684.6 991.9L688.5 991.6L692.3 991.4L696.2 991.1L700.1 990.9L704.0 990.6L707.8 990.4L711.7 990.1L715.6 989.9L719.5 989.7L723.3 989.5L727.2 989.2L731.1 989.0L735.0 988.8L738.8 988.6L742.7 988.4L746.6 988.2L750.5 988.0L754.4 987.9L758.2 987.7L762.1 987.5L766.0 987.3L769.9 987.2L773.8 987.0L777.6 986.8L781.5 986.7L785.4 986.5L789.3 986.3L793.2 986.2L797.0 986.0L800.9 985.9L804.8 985.7L808.7 985.6L812.6 985.4L816.4 985.3L820.3 985.1L824.2 985.0L828.1 984.9L832.0 984.7L835.8 984.6L839.7 984.4L843.6 984.3L847.5 984.2L851.4 984.1L855.2 983.9L859.1 983.8L863.0 983.7L866.9 983.5L870.8 983.4L874.6 983.3L878.5 983.2L882.4 983.0L886.3 982.9L890.2 982.8L894.1 982.7L897.9 982.6L901.8 982.5L905.7 982.3L909.6 982.2L913.5 982.1L917.3 982.0L921.2 981.9L925.1 981.8L929.0 981.7L932.9 981.6L936.7 981.5L940.6 981.4L944.5 981.3L948.4 981.2L952.3 981.1L956.1 981.0L960.0 980.9L963.9 980.8L967.8 980.7L971.7 980.6L975.5 980.5L979.4 980.4L983.3 980.4L987.2 980.3L991.1 980.2L994.9 980.1L998.8 980.0L1002.7 979.9L1006.6 979.9L1010.5 979.8L1014.4 979.7L1018.2 979.6L1022.1 979.6L1026.0 979.5L1029.9 979.4L1033.8 979.3L1037.6 979.3L1041.5 979.2L1045.4 979.1L1049.3 979.1L1053.2 979.0L1057.0 978.9L1060.9 978.9L1064.8 978.8L1068.7 978.8L1072.6 978.7L1076.4 978.6L1080.3 978.6L1084.2 978.5L1088.1 978.5L1092.0 978.4L1095.8 978.4L1099.7 978.3L1103.6 978.3L1107.5 978.2L1111.4 978.2L1115.2 978.1L1119.1 978.1L1123.0 978.0L1126.9 978.0L1130.8 978.0L1134.6 977.9L1138.5 977.9L1142.4 977.8L1146.3 977.8L1150.2 977.8L1154.1 977.7L1157.9 977.7L1161.8 977.7L1165.7 977.6L1169.6 977.6L1173.5 977.6L1177.3 977.6L1181.2 977.5L1185.1 977.5L1189.0 977.5L1192.9 977.5L1196.7 977.4L1200.6 977.4L1204.5 977.4L1208.4 977.4L1212.3 977.4L1216.1 977.3L1220.0 977.3L1223.9 977.3L1227.8 977.3L1231.7 977.3L1235.6 977.3L1239.4 977.3L1243.3 977.3L1247.2 977.3L1251.1 977.3L1255.0 977.2L1258.8 977.2L1262.7 977.2L1266.6 977.2L1270.5 977.2L1274.4 977.2L1278.2 977.2L1282.1 977.2L1286.0 977.2L1289.9 977.3L1293.8 977.3L1297.7 977.3L1301.5 977.3L1305.4 977.3L1309.3 977.3L1313.2 977.3L1317.1 977.3L1320.9 977.3L1324.8 977.3L1328.7 977.4L1332.6 977.4L1336.5 977.4L1340.3 977.4L1344.2 977.4L1348.1 977.5L1352.0 977.5L1355.9 977.5L1359.8 977.5L1363.6 977.5L1367.5 977.6L1371.4 977.6L1375.3 977.6L1379.2 977.6L1383.0 977.7L1386.9 977.7L1390.8 977.7L1394.7 977.8L1398.6 977.8L1402.5 977.8L1406.3 977.9L1410.2 977.9L1414.1 977.9L1418.0 978.0L1421.9 978.0L1425.7 978.0L1429.6 978.1L1433.5 978.1L1437.4 978.2L1441.3 978.2L1445.2 978.2L1449.0 978.3L1452.9 978.3L1456.8 978.4L1460.7 978.4L1464.6 978.4L1468.4 978.5L1472.3 978.5L1476.2 978.6L1480.1 978.6L1484.0 978.7L1487.9 978.7L1491.7 978.8L1495.6 978.8L1499.5 978.9L1503.4 978.9L1507.3 978.9L1511.2 979.0L1515.0 979.0L1518.9 979.1L1522.8 979.1L1526.7 979.2L1530.6 979.3L1534.4 979.3L1538.3 979.4L1542.2 979.4L1546.1 979.5L1550.0 979.5L1553.9 979.6L1557.7 979.6L1561.6 979.7L1565.5 979.7L1569.4 979.8L1573.3 979.8L1577.1 979.9L1581.0 980.0L1584.9 980.0L1588.8 980.1L1592.7 980.1L1596.6 980.2L1600.4 980.2L1604.3 980.3L1608.2 980.3L1612.1 980.4L1616.0 980.5L1619.9 980.5L1623.7 980.6L1627.6 980.6L1631.5 980.7L1635.4 980.7L1639.3 980.8L1643.1 980.9L1647.0 980.9L1650.9 981.0L1654.8 981.0L1658.7 981.1L1662.6 981.2L1666.4 981.2L1670.3 981.3L1674.2 981.3L1678.1 981.4L1682.0 981.4L1685.9 981.5L1689.7 981.6L1693.6 981.6L1697.5 981.7L1701.4 981.7L1705.3 981.8L1709.1 981.8L1713.0 981.9L1716.9 982.0L1720.8 982.0L1724.7 982.1L1728.6 982.1L1732.4 982.2L1736.3 982.2L1740.2 982.3L1744.1 982.4L1748.0 982.4L1751.9 982.5L1755.7 982.5L1759.6 982.6L1763.5 982.6L1767.4 982.7L1771.3 982.7L1775.1 982.8L1779.0 982.8L1782.9 982.9L1786.8 982.9L1790.7 983.0L1794.6 983.1L1798.4 983.1L1802.3 983.2L1806.2 983.2L1810.1 983.3L1814.0 983.3L1817.9 983.4L1821.7 983.4L1825.6 983.5L1829.5 983.5L1833.4 983.5L1837.3 983.6L1841.1 983.6L1845.0 983.7L1848.9 983.7L1852.8 983.8L1856.7 983.8L1860.6 983.9L1864.4 983.9L1868.3 983.9L1872.2 984.0L1876.1 984.0L1880.0 984.1L1883.8 984.1L1887.7 984.1L1891.6 984.2L1895.5 984.2L1899.4 984.3L1903.3 984.3L1907.1 984.3L1911.0 984.4L1914.9 984.4L1918.8 984.4L1922.7 984.5L1926.5 984.5L1930.4 984.5L1934.3 984.6L1938.2 984.6L1942.1 984.6L1946.0 984.6L1949.8 984.7L1953.7 984.7L1957.6 984.7L1961.5 984.8L1965.4 984.8L1969.2 984.8L1973.1 984.8L1977.0 984.8L1980.9 984.9L1984.8 984.9L1988.7 984.9L1992.5 984.9L1996.4 984.9L2000.3 984.9L2004.2 985.0L2008.1 985.0L2011.9 985.0L2015.8 985.0L2019.7 985.0L2023.6 985.0L2027.5 985.0L2031.3 985.0L2035.2 985.0L2039.1 985.0L2043.0 985.0"/>
<path class="cv" stroke="#ff0000" d="M290.5 1270.5L290.6 1271.3L290.7 1271.4L290.7 1271.1L290.8 1270.7L290.9 1269.5L291.0 1267.9L291.0 1267.7L291.2 1265.6L291.3 1263.2L291.4 1262.1L291.5 1260.6L291.7 1257.9L291.9 1255.5L292.0 1255.2L292.2 1252.6L292.6 1250.3L292.7 1249.5L292.9 1248.2L293.3 1246.6L293.6 1245.6L293.7 1245.5L294.1 1244.9L294.6 1245.2L294.8 1245.4L295.2 1246.1L295.8 1247.5L296.2 1248.8L296.4 1249.2L297.0 1251.0L297.6 1252.7L297.7 1253.1L298.2 1254.2L299.0 1255.5L299.7 1256.2L300.1 1256.4L301.3 1257.0L302.8 1257.4L303.1 1257.4L304.4 1257.6L306.0 1257.7L307.0 1257.7L307.6 1257.7L309.2 1257.6L310.7 1257.2L310.9 1257.2L312.1 1256.7L313.5 1255.9L314.3 1255.3L314.7 1254.9L315.8 1253.8L316.7 1252.6L316.8 1252.5L317.4 1251.2L318.0 1249.8L318.3 1249.0L318.5 1248.3L318.9 1246.8L319.3 1245.3L319.3 1245.3L319.7 1243.7L320.1 1242.2L320.3 1241.5L320.6 1240.7L321.0 1239.2L321.4 1237.8L321.4 1237.7L321.9 1236.3L322.3 1234.8L322.5 1234.2L322.8 1233.3L323.2 1231.9L323.7 1230.6L323.7 1230.4L324.2 1228.9L324.6 1227.5L324.8 1226.9L325.1 1226.0L325.5 1224.5L325.9 1223.3L326.0 1223.1L326.4 1221.6L326.9 1220.1L327.0 1219.7L327.4 1218.7L327.8 1217.2L328.2 1216.0L328.3 1215.7L328.7 1214.2L329.2 1212.8L329.3 1212.4L329.6 1211.3L330.1 1209.8L330.4 1208.7L330.5 1208.3L331.0 1206.8L331.5 1205.4L331.6 1205.1L331.9 1203.9L332.4 1202.4L332.7 1201.5L332.9 1200.9L333.3 1199.5L333.8 1198.0L333.9 1197.8L334.3 1196.5L334.8 1195.1L335.1 1194.2L335.3 1193.6L335.8 1192.1L336.2 1190.7L336.3 1190.6L336.7 1189.2L337.2 1187.7L337.5 1186.9L337.8 1186.3L338.3 1184.8L338.8 1183.4L338.8 1183.3L339.3 1181.9L339.8 1180.5L340.1 1179.8L340.4 1179.0L340.9 1177.6L341.4 1176.2L341.5 1176.1L342.0 1174.7L342.6 1173.2L342.8 1172.6L343.1 1171.8L343.7 1170.4L344.2 1169.1L344.3 1168.9L344.8 1167.5L345.4 1166.1L345.6 1165.6L346.0 1164.7L346.6 1163.2L347.1 1162.1L347.2 1161.8L347.8 1160.4L348.4 1159.0L348.6 1158.5L349.0 1157.6L349.6 1156.1L350.1 1155.0L350.2 1154.7L350.8 1153.3L351.5 1151.9L351.6 1151.5L352.1 1150.5L352.7 1149.1L353.2 1148.0L353.4 1147.6L354.0 1146.2L354.6 1144.8L354.7 1144.5L355.3 1143.4L355.9 1142.0L356.3 1141.0L356.6 1140.6L357.2 1139.2L357.9 1137.8L358.0 1137.6L358.6 1136.3L359.2 1135.0L359.7 1134.1L359.9 1133.6L360.6 1132.2L361.3 1130.8L361.4 1130.7L362.0 1129.4L362.8 1128.1L363.2 1127.3L363.5 1126.7L364.3 1125.3L365.0 1124.0L365.1 1124.0L365.8 1122.7L366.6 1121.4L367.0 1120.7L367.4 1120.1L368.3 1118.8L369.1 1117.6L369.1 1117.5L370.0 1116.3L370.9 1115.0L371.3 1114.5L371.8 1113.8L372.7 1112.6L373.6 1111.5L373.7 1111.4L374.6 1110.2L375.6 1109.0L376.0 1108.6L376.6 1107.9L377.7 1106.8L378.5 1105.8L378.7 1105.7L379.8 1104.6L380.8 1103.5L381.2 1103.1L381.9 1102.4L383.0 1101.3L383.9 1100.5L384.1 1100.3L385.3 1099.3L386.4 1098.3L386.7 1098.0L387.6 1097.3L388.8 1096.3L389.6 1095.6L390.0 1095.3L391.2 1094.4L392.4 1093.4L392.6 1093.2L393.6 1092.5L394.8 1091.6L395.7 1091.0L396.1 1090.7L397.3 1089.8L398.6 1088.9L398.8 1088.8L399.9 1088.0L401.1 1087.1L401.9 1086.6L402.4 1086.3L403.7 1085.5L405.0 1084.6L405.1 1084.6L406.3 1083.8L407.7 1083.0L408.4 1082.6L409.0 1082.2L410.3 1081.5L411.6 1080.7L411.7 1080.7L413.0 1079.9L414.3 1079.2L415.0 1078.8L415.7 1078.4L417.0 1077.7L418.3 1077.0L418.4 1077.0L419.7 1076.3L421.1 1075.6L421.7 1075.3L422.5 1074.9L423.9 1074.2L425.1 1073.6L425.2 1073.5L426.6 1072.9L428.0 1072.2L428.6 1072.0L429.4 1071.6L430.8 1070.9L432.0 1070.4L432.2 1070.3L433.7 1069.7L435.1 1069.1L435.5 1068.9L436.5 1068.4L437.9 1067.9L439.0 1067.4L439.3 1067.3L440.8 1066.7L442.2 1066.1L442.6 1066.0L443.6 1065.5L445.1 1065.0L446.1 1064.6L446.5 1064.4L448.0 1063.9L449.4 1063.4L449.7 1063.2L450.9 1062.8L452.3 1062.3L453.3 1061.9L453.8 1061.8L455.2 1061.3L456.7 1060.8L456.9 1060.7L458.2 1060.3L459.6 1059.8L460.5 1059.5L461.1 1059.3L462.6 1058.8L464.1 1058.3L464.2 1058.3L465.5 1057.9L467.0 1057.4L467.8 1057.1L468.5 1056.9L470.0 1056.5L471.4 1056.0L471.5 1056.0L472.9 1055.6L474.4 1055.1L475.1 1054.9L475.9 1054.7L477.4 1054.3L478.8 1053.9L478.9 1053.9L480.4 1053.4L481.8 1053.0L482.5 1052.8L483.3 1052.6L484.8 1052.2L486.2 1051.8L486.3 1051.8L487.8 1051.4L489.3 1051.0L489.9 1050.9L490.8 1050.6L492.3 1050.2L493.6 1049.9L493.8 1049.8L495.3 1049.5L496.8 1049.1L497.3 1049.0L498.3 1048.7L499.8 1048.3L501.0 1048.1L501.3 1048.0L502.8 1047.6L504.3 1047.3L504.7 1047.2L505.8 1046.9L507.3 1046.6L508.4 1046.3L508.8 1046.2L510.3 1045.9L511.8 1045.6L512.1 1045.5L513.3 1045.2L514.8 1044.9L515.8 1044.7L516.3 1044.6L517.8 1044.2L519.3 1043.9L519.5 1043.9L520.8 1043.6L522.3 1043.3L523.3 1043.1L523.8 1043.0L525.4 1042.7L526.9 1042.4L527.0 1042.4L528.4 1042.1L529.9 1041.8L530.7 1041.6L531.4 1041.5L532.9 1041.2L534.4 1040.9L534.5 1040.9L536.0 1040.7L537.5 1040.4L538.2 1040.2L539.0 1040.1L540.5 1039.8L542.0 1039.6L542.0 1039.6L543.5 1039.3L545.1 1039.0L545.7 1038.9L549.5 1038.3L553.3 1037.7L557.0 1037.1L560.8 1036.5L564.6 1035.9L568.3 1035.4L572.1 1034.9L575.9 1034.3L579.7 1033.8L583.4 1033.3L587.2 1032.9L591.0 1032.4L594.8 1031.9L598.6 1031.5L602.4 1031.1L606.2 1030.7L610.0 1030.2L613.8 1029.8L617.6 1029.5L621.4 1029.1L625.2 1028.7L629.0 1028.3L632.8 1028.0L636.6 1027.6L640.4 1027.3L644.2 1026.9L648.0 1026.6L651.8 1026.3L655.6 1025.9L659.4 1025.6L663.2 1025.3L667.0 1025.0L670.8 1024.7L674.7 1024.3L678.5 1024.0L682.3 1023.7L686.1 1023.5L689.9 1023.2L693.7 1022.9L697.5 1022.6L701.3 1022.3L705.1 1022.0L708.9 1021.8L712.7 1021.5L716.5 1021.2L720.3 1021.0L724.1 1020.7L728.0 1020.5L731.8 1020.2L735.6 1020.0L739.4 1019.7L743.2 1019.5L747.0 1019.3L750.8 1019.0L754.6 1018.8L758.4 1018.6L762.2 1018.4L766.0 1018.2L769.9 1018.0L773.7 1017.7L777.5 1017.5L781.3 1017.3L785.1 1017.1L788.9 1017.0L792.7 1016.8L796.5 1016.6L800.3 1016.4L804.1 1016.2L808.0 1016.0L811.8 1015.9L815.6 1015.7L819.4 1015.5L823.2 1015.4L827.0 1015.2L830.8 1015.0L834.6 1014.9L838.5 1014.7L842.3 1014.6L846.1 1014.5L849.9 1014.3L853.7 1014.2L857.5 1014.0L861.3 1013.9L865.1 1013.8L868.9 1013.6L872.8 1013.5L876.6 1013.4L880.4 1013.3L884.2 1013.2L888.0 1013.1L891.8 1013.0L895.6 1012.8L899.4 1012.7L903.3 1012.6L907.1 1012.5L910.9 1012.4L914.7 1012.4L918.5 1012.3L922.3 1012.2L926.1 1012.1L930.0 1012.0L933.8 1011.9L937.6 1011.9L941.4 1011.8L945.2 1011.7L949.0 1011.6L952.8 1011.6L956.7 1011.5L960.5 1011.4L964.3 1011.4L968.1 1011.3L971.9 1011.3L975.7 1011.2L979.5 1011.2L983.4 1011.1L987.2 1011.1L991.0 1011.0L994.8 1011.0L998.6 1010.9L1002.4 1010.9L1006.2 1010.9L1010.1 1010.8L1013.9 1010.8L1017.7 1010.8L1021.5 1010.7L1025.3 1010.7L1029.1 1010.7L1033.0 1010.7L1036.8 1010.7L1040.6 1010.6L1044.4 1010.6L1048.2 1010.6L1052.0 1010.6L1055.8 1010.6L1059.7 1010.6L1063.5 1010.6L1067.3 1010.6L1071.1 1010.6L1074.9 1010.6L1078.7 1010.6L1082.6 1010.6L1086.4 1010.6L1090.2 1010.6L1094.0 1010.6L1097.8 1010.6L1101.6 1010.6L1105.5 1010.6L1109.3 1010.6L1113.1 1010.6L1116.9 1010.6L1120.7 1010.7L1124.5 1010.7L1128.4 1010.7L1132.2 1010.7L1136.0 1010.7L1139.8 1010.8L1143.6 1010.8L1147.4 1010.8L1151.3 1010.8L1155.1 1010.9L1158.9 1010.9L1162.7 1010.9L1166.5 1010.9L1170.3 1011.0L1174.2 1011.0L1178.0 1011.0L1181.8 1011.1L1185.6 1011.1L1189.4 1011.2L1193.2 1011.2L1197.1 1011.2L1200.9 1011.3L1204.7 1011.3L1208.5 1011.4L1212.3 1011.4L1216.1 1011.4L1220.0 1011.5L1223.8 1011.5L1227.6 1011.6L1231.4 1011.6L1235.2 1011.7L1239.0 1011.7L1242.9 1011.8L1246.7 1011.8L1250.5 1011.9L1254.3 1011.9L1258.1 1012.0L1261.9 1012.0L1265.8 1012.1L1269.6 1012.1L1273.4 1012.2L1277.2 1012.2L1281.0 1012.3L1284.8 1012.3L1288.7 1012.4L1292.5 1012.4L1296.3 1012.5L1300.1 1012.5L1303.9 1012.6L1307.7 1012.6L1311.6 1012.7L1315.4 1012.8L1319.2 1012.8L1323.0 1012.9L1326.8 1012.9L1330.6 1013.0L1334.5 1013.0L1338.3 1013.1L1342.1 1013.1L1345.9 1013.2L1349.7 1013.3L1353.5 1013.3L1357.4 1013.4L1361.2 1013.4L1365.0 1013.5L1368.8 1013.5L1372.6 1013.6L1376.4 1013.6L1380.2 1013.7L1384.1 1013.8L1387.9 1013.8L1391.7 1013.9L1395.5 1013.9L1399.3 1014.0L1403.1 1014.0L1407.0 1014.1L1410.8 1014.1L1414.6 1014.2L1418.4 1014.2L1422.2 1014.3L1426.0 1014.4L1429.9 1014.4L1433.7 1014.5L1437.5 1014.5L1441.3 1014.6L1445.1 1014.6L1448.9 1014.7L1452.8 1014.7L1456.6 1014.8L1460.4 1014.8L1464.2 1014.9L1468.0 1014.9L1471.8 1015.0L1475.6 1015.1L1479.5 1015.1L1483.3 1015.2L1487.1 1015.2L1490.9 1015.3L1494.7 1015.3L1498.5 1015.4L1502.4 1015.4L1506.2 1015.5L1510.0 1015.5L1513.8 1015.6L1517.6 1015.6L1521.4 1015.7L1525.2 1015.7L1529.1 1015.8L1532.9 1015.8L1536.7 1015.9L1540.5 1015.9L1544.3 1016.0L1548.1 1016.0L1552.0 1016.1L1555.8 1016.1L1559.6 1016.2L1563.4 1016.2L1567.2 1016.3L1571.0 1016.3L1574.8 1016.4L1578.7 1016.4L1582.5 1016.5L1586.3 1016.5L1590.1 1016.6L1593.9 1016.6L1597.7 1016.7L1601.6 1016.7L1605.4 1016.8L1609.2 1016.8L1613.0 1016.8L1616.8 1016.9L1620.6 1016.9L1624.4 1017.0L1628.3 1017.0L1632.1 1017.1L1635.9 1017.1L1639.7 1017.2L1643.5 1017.2L1647.3 1017.3L1651.1 1017.3L1655.0 1017.4L1658.8 1017.4L1662.6 1017.4L1666.4 1017.5L1670.2 1017.5L1674.0 1017.6L1677.9 1017.6L1681.7 1017.7L1685.5 1017.7L1689.3 1017.7L1693.1 1017.8L1696.9 1017.8L1700.7 1017.9L1704.6 1017.9L1708.4 1018.0L1712.2 1018.0L1716.0 1018.0L1719.8 1018.1L1723.6 1018.1L1727.5 1018.2L1731.3 1018.2L1735.1 1018.2L1738.9 1018.3L1742.7 1018.3L1746.5 1018.4L1750.3 1018.4L1754.2 1018.4L1758.0 1018.5L1761.8 1018.5L1765.6 1018.5L1769.4 1018.6L1773.2 1018.6L1777.1 1018.7L1780.9 1018.7L1784.7 1018.7L1788.5 1018.8L1792.3 1018.8L1796.1 1018.8L1799.9 1018.9L1803.8 1018.9L1807.6 1018.9L1811.4 1019.0L1815.2 1019.0L1819.0 1019.0L1822.8 1019.1L1826.7 1019.1L1830.5 1019.1L1834.3 1019.2L1838.1 1019.2L1841.9 1019.2L1845.7 1019.3L1849.6 1019.3L1853.4 1019.3L1857.2 1019.4L1861.0 1019.4L1864.8 1019.4L1868.6 1019.5L1872.4 1019.5L1876.3 1019.5L1880.1 1019.5L1883.9 1019.6L1887.7 1019.6L1891.5 1019.6L1895.3 1019.7L1899.2 1019.7L1903.0 1019.7L1906.8 1019.7L1910.6 1019.8L1914.4 1019.8L1918.2 1019.8L1922.1 1019.8L1925.9 1019.9L1929.7 1019.9L1933.5 1019.9L1937.3 1019.9L1941.1 1020.0L1945.0 1020.0L1948.8 1020.0L1952.6 1020.0L1956.4 1020.1L1960.2 1020.1L1964.0 1020.1L1967.9 1020.1L1971.7 1020.1L1975.5 1020.2L1979.3 1020.2L1983.1 1020.2L1986.9 1020.2L1990.8 1020.2L1994.6 1020.3L1998.4 1020.3L2002.2 1020.3L2006.0 1020.3L2009.8 1020.3L2013.7 1020.3L2017.5 1020.4L2021.3 1020.4L2025.1 1020.4L2028.9 1020.4L2032.7 1020.4L2036.6 1020.4L2040.4 1020.4L2044.2 1020.5L2048.0 1020.5"/>
<path class="cv" stroke="#008000" d="M290.5 1270.5L290.5 1271.1L290.5 1271.3L290.6 1271.3L290.6 1271.2L290.6 1270.8L290.6 1270.1L290.6 1270.0L290.7 1269.2L290.7 1268.0L290.7 1267.2L290.7 1266.6L290.8 1265.0L290.8 1263.2L290.8 1263.0L290.8 1261.3L290.9 1259.2L290.9 1257.7L290.9 1256.9L291.0 1254.6L291.0 1252.2L291.0 1251.7L291.1 1249.7L291.1 1247.1L291.2 1245.3L291.2 1244.6L291.3 1242.0L291.3 1239.4L291.3 1238.7L291.4 1236.8L291.4 1234.3L291.5 1232.3L291.5 1231.8L291.6 1229.4L291.7 1227.1L291.7 1226.4L291.8 1225.0L291.8 1222.9L291.9 1221.3L291.9 1221.0L292.0 1219.3L292.1 1217.8L292.1 1217.3L292.2 1216.5L292.3 1215.4L292.4 1214.7L292.4 1214.6L292.5 1214.1L292.6 1213.8L292.7 1213.8L292.7 1213.8L292.8 1214.2L293.0 1214.8L293.0 1214.9L293.1 1215.8L293.2 1217.0L293.3 1217.7L293.3 1218.5L293.4 1220.1L293.5 1221.8L293.5 1221.9L293.6 1223.7L293.6 1225.6L293.6 1226.7L293.6 1227.6L293.6 1229.5L293.6 1231.4L293.6 1231.7L293.6 1233.3L293.5 1235.1L293.4 1236.2L293.4 1236.8L293.4 1238.4L293.4 1239.9L293.4 1240.2L293.5 1241.4L293.7 1242.9L293.9 1243.9L294.0 1244.3L294.4 1245.6L295.0 1246.9L295.2 1247.2L295.8 1248.2L296.7 1249.4L297.4 1250.2L297.7 1250.5L298.8 1251.6L300.1 1252.5L300.5 1252.8L301.4 1253.4L302.9 1254.1L304.1 1254.6L304.3 1254.7L305.9 1255.2L307.4 1255.4L308.0 1255.5L308.9 1255.5L310.4 1255.2L311.7 1254.8L311.9 1254.7L313.1 1253.9L314.2 1252.9L314.6 1252.3L315.1 1251.6L315.9 1250.2L316.6 1248.8L316.6 1248.8L317.2 1247.3L317.7 1245.9L317.9 1245.1L318.2 1244.4L318.5 1242.9L318.9 1241.4L318.9 1241.3L319.1 1239.8L319.4 1238.3L319.6 1237.5L319.7 1236.8L320.0 1235.3L320.3 1233.8L320.4 1233.6L320.7 1232.3L321.1 1230.8L321.4 1229.8L321.5 1229.3L322.0 1227.8L322.5 1226.4L322.6 1226.1L323.0 1224.9L323.5 1223.4L323.9 1222.4L324.1 1222.0L324.6 1220.5L325.1 1219.1L325.2 1218.8L325.6 1217.6L326.1 1216.2L326.5 1215.1L326.6 1214.7L327.0 1213.2L327.5 1211.7L327.6 1211.3L327.9 1210.2L328.3 1208.8L328.6 1207.5L328.7 1207.3L329.1 1205.8L329.5 1204.3L329.6 1203.8L329.8 1202.8L330.2 1201.3L330.5 1200.0L330.6 1199.8L331.0 1198.3L331.3 1196.8L331.5 1196.1L331.7 1195.3L332.1 1193.8L332.4 1192.3L332.5 1192.3L332.9 1190.8L333.3 1189.3L333.5 1188.6L333.7 1187.8L334.1 1186.3L334.5 1184.8L334.5 1184.8L335.0 1183.3L335.5 1181.9L335.7 1181.1L335.9 1180.4L336.4 1178.9L337.0 1177.5L337.0 1177.4L337.5 1176.0L338.1 1174.6L338.4 1173.7L338.6 1173.2L339.2 1171.8L339.8 1170.3L339.9 1170.1L340.4 1168.9L341.0 1167.5L341.5 1166.6L341.7 1166.1L342.3 1164.7L343.0 1163.3L343.1 1163.0L343.6 1161.9L344.3 1160.5L344.8 1159.5L345.0 1159.1L345.6 1157.7L346.3 1156.3L346.5 1156.0L347.0 1154.9L347.7 1153.6L348.3 1152.5L348.4 1152.2L349.1 1150.8L349.8 1149.4L350.1 1149.0L350.6 1148.0L351.3 1146.7L351.9 1145.5L352.0 1145.3L352.7 1143.9L353.4 1142.5L353.7 1142.0L354.1 1141.2L354.8 1139.8L355.5 1138.5L355.6 1138.4L356.3 1137.1L357.1 1135.7L357.4 1135.1L357.8 1134.4L358.6 1133.0L359.3 1131.7L359.3 1131.7L360.1 1130.4L360.9 1129.1L361.4 1128.4L361.7 1127.8L362.6 1126.5L363.4 1125.2L363.5 1125.1L364.3 1124.0L365.2 1122.7L365.7 1122.0L366.1 1121.5L367.0 1120.3L368.0 1119.1L368.1 1119.0L369.0 1117.9L370.0 1116.8L370.6 1116.1L371.0 1115.7L372.0 1114.5L373.1 1113.5L373.3 1113.2L374.2 1112.4L375.3 1111.3L376.1 1110.5L376.4 1110.2L377.5 1109.2L378.6 1108.2L378.9 1107.9L379.8 1107.2L381.0 1106.2L381.9 1105.4L382.2 1105.2L383.4 1104.3L384.6 1103.3L385.0 1103.0L385.8 1102.4L387.1 1101.5L388.1 1100.7L388.3 1100.6L389.6 1099.7L390.9 1098.8L391.3 1098.4L392.1 1097.9L393.4 1097.1L394.6 1096.3L394.7 1096.2L396.1 1095.4L397.4 1094.6L398.0 1094.2L398.7 1093.8L400.0 1093.0L401.3 1092.2L401.4 1092.2L402.7 1091.4L404.1 1090.6L404.8 1090.3L405.4 1089.9L406.8 1089.1L408.2 1088.4L408.2 1088.4L409.5 1087.7L410.9 1087.0L411.7 1086.6L412.3 1086.3L413.7 1085.6L415.1 1084.9L415.2 1084.8L416.5 1084.2L417.9 1083.6L418.7 1083.2L419.3 1082.9L420.7 1082.3L422.1 1081.6L422.3 1081.5L423.5 1081.0L424.9 1080.4L425.9 1080.0L426.3 1079.8L427.7 1079.2L429.2 1078.6L429.5 1078.4L430.6 1078.0L432.0 1077.4L433.1 1077.0L433.4 1076.8L434.9 1076.3L436.3 1075.7L436.7 1075.6L437.8 1075.2L439.2 1074.6L440.4 1074.2L440.6 1074.1L442.1 1073.6L443.6 1073.1L444.1 1072.9L445.0 1072.5L446.5 1072.0L447.8 1071.6L447.9 1071.5L449.4 1071.0L450.9 1070.6L451.5 1070.4L452.3 1070.1L453.8 1069.6L455.2 1069.2L455.3 1069.1L456.7 1068.7L458.2 1068.2L458.9 1068.0L459.7 1067.8L461.2 1067.3L462.6 1066.9L462.7 1066.9L464.1 1066.4L465.6 1066.0L466.4 1065.8L467.1 1065.6L468.6 1065.2L470.1 1064.7L470.2 1064.7L471.6 1064.3L473.0 1063.9L474.0 1063.7L474.5 1063.5L476.0 1063.1L477.5 1062.7L477.7 1062.7L479.0 1062.3L480.5 1061.9L481.5 1061.7L482.0 1061.6L483.5 1061.2L485.0 1060.8L485.3 1060.7L486.5 1060.4L488.0 1060.1L489.1 1059.8L489.5 1059.7L491.0 1059.3L492.5 1059.0L492.9 1058.9L494.0 1058.6L496.7 1058.0L500.5 1057.1L504.3 1056.2L508.1 1055.4L512.0 1054.5L515.8 1053.7L519.6 1052.9L523.4 1052.2L527.3 1051.4L531.1 1050.7L534.9 1050.0L538.8 1049.2L542.6 1048.6L546.5 1047.9L550.3 1047.2L554.2 1046.6L558.0 1046.0L561.9 1045.4L565.7 1044.8L569.6 1044.2L573.5 1043.6L577.3 1043.0L581.2 1042.5L585.1 1042.0L588.9 1041.5L592.8 1041.0L596.7 1040.5L600.6 1040.0L604.5 1039.5L608.3 1039.1L612.2 1038.6L616.1 1038.2L620.0 1037.8L623.9 1037.4L627.8 1037.0L631.7 1036.6L635.6 1036.2L639.5 1035.8L643.4 1035.5L647.3 1035.1L651.2 1034.8L655.1 1034.4L659.0 1034.1L662.9 1033.8L666.8 1033.5L670.7 1033.2L674.6 1032.9L678.5 1032.6L682.4 1032.3L686.3 1032.0L690.2 1031.7L694.1 1031.5L698.0 1031.2L701.9 1030.9L705.8 1030.7L709.7 1030.4L713.6 1030.2L717.5 1030.0L721.4 1029.7L725.3 1029.5L729.3 1029.3L733.2 1029.0L737.1 1028.8L741.0 1028.6L744.9 1028.4L748.8 1028.2L752.7 1028.0L756.6 1027.8L760.5 1027.6L764.4 1027.4L768.3 1027.2L772.2 1027.0L776.1 1026.8L780.1 1026.7L784.0 1026.5L787.9 1026.3L791.8 1026.2L795.7 1026.0L799.6 1025.8L803.5 1025.7L807.4 1025.5L811.3 1025.4L815.2 1025.2L819.1 1025.1L823.0 1025.0L827.0 1024.8L830.9 1024.7L834.8 1024.6L838.7 1024.4L842.6 1024.3L846.5 1024.2L850.4 1024.1L854.3 1024.0L858.2 1023.9L862.1 1023.8L866.0 1023.7L869.9 1023.6L873.9 1023.5L877.8 1023.4L881.7 1023.3L885.6 1023.2L889.5 1023.1L893.4 1023.0L897.3 1022.9L901.2 1022.8L905.1 1022.8L909.0 1022.7L912.9 1022.6L916.9 1022.6L920.8 1022.5L924.7 1022.4L928.6 1022.4L932.5 1022.3L936.4 1022.2L940.3 1022.2L944.2 1022.1L948.1 1022.1L952.0 1022.0L955.9 1022.0L959.9 1022.0L963.8 1021.9L967.7 1021.9L971.6 1021.8L975.5 1021.8L979.4 1021.8L983.3 1021.7L987.2 1021.7L991.1 1021.7L995.0 1021.6L998.9 1021.6L1002.9 1021.6L1006.8 1021.6L1010.7 1021.6L1014.6 1021.5L1018.5 1021.5L1022.4 1021.5L1026.3 1021.5L1030.2 1021.5L1034.1 1021.5L1038.0 1021.5L1042.0 1021.5L1045.9 1021.5L1049.8 1021.5L1053.7 1021.5L1057.6 1021.5L1061.5 1021.5L1065.4 1021.5L1069.3 1021.5L1073.2 1021.5L1077.1 1021.5L1081.1 1021.5L1085.0 1021.5L1088.9 1021.5L1092.8 1021.5L1096.7 1021.5L1100.6 1021.5L1104.5 1021.5L1108.4 1021.5L1112.3 1021.5L1116.2 1021.6L1120.2 1021.6L1124.1 1021.6L1128.0 1021.6L1131.9 1021.6L1135.8 1021.6L1139.7 1021.6L1143.6 1021.7L1147.5 1021.7L1151.4 1021.7L1155.3 1021.7L1159.3 1021.7L1163.2 1021.8L1167.1 1021.8L1171.0 1021.8L1174.9 1021.8L1178.8 1021.8L1182.7 1021.9L1186.6 1021.9L1190.5 1021.9L1194.4 1021.9L1198.4 1021.9L1202.3 1022.0L1206.2 1022.0L1210.1 1022.0L1214.0 1022.0L1217.9 1022.1L1221.8 1022.1L1225.7 1022.1L1229.6 1022.1L1233.5 1022.1L1237.5 1022.2L1241.4 1022.2L1245.3 1022.2L1249.2 1022.2L1253.1 1022.2L1257.0 1022.3L1260.9 1022.3L1264.8 1022.3L1268.7 1022.3L1272.7 1022.4L1276.6 1022.4L1280.5 1022.4L1284.4 1022.4L1288.3 1022.5L1292.2 1022.5L1296.1 1022.5L1300.0 1022.5L1303.9 1022.5L1307.8 1022.6L1311.8 1022.6L1315.7 1022.6L1319.6 1022.6L1323.5 1022.7L1327.4 1022.7L1331.3 1022.7L1335.2 1022.7L1339.1 1022.8L1343.0 1022.8L1346.9 1022.8L1350.9 1022.8L1354.8 1022.9L1358.7 1022.9L1362.6 1022.9L1366.5 1022.9L1370.4 1023.0L1374.3 1023.0L1378.2 1023.0L1382.1 1023.0L1386.1 1023.1L1390.0 1023.1L1393.9 1023.1L1397.8 1023.1L1401.7 1023.2L1405.6 1023.2L1409.5 1023.2L1413.4 1023.2L1417.3 1023.3L1421.2 1023.3L1425.2 1023.3L1429.1 1023.4L1433.0 1023.4L1436.9 1023.4L1440.8 1023.4L1444.7 1023.5L1448.6 1023.5L1452.5 1023.5L1456.4 1023.5L1460.4 1023.6L1464.3 1023.6L1468.2 1023.6L1472.1 1023.7L1476.0 1023.7L1479.9 1023.7L1483.8 1023.7L1487.7 1023.8L1491.6 1023.8L1495.5 1023.8L1499.5 1023.9L1503.4 1023.9L1507.3 1023.9L1511.2 1023.9L1515.1 1024.0L1519.0 1024.0L1522.9 1024.0L1526.8 1024.1L1530.7 1024.1L1534.7 1024.1L1538.6 1024.2L1542.5 1024.2L1546.4 1024.2L1550.3 1024.2L1554.2 1024.3L1558.1 1024.3L1562.0 1024.3L1565.9 1024.4L1569.8 1024.4L1573.8 1024.4L1577.7 1024.5L1581.6 1024.5L1585.5 1024.5L1589.4 1024.6L1593.3 1024.6L1597.2 1024.6L1601.1 1024.7L1605.0 1024.7L1609.0 1024.7L1612.9 1024.8L1616.8 1024.8L1620.7 1024.8L1624.6 1024.9L1628.5 1024.9L1632.4 1024.9L1636.3 1025.0L1640.2 1025.0L1644.1 1025.0L1648.1 1025.1L1652.0 1025.1L1655.9 1025.1L1659.8 1025.2L1663.7 1025.2L1667.6 1025.2L1671.5 1025.3L1675.4 1025.3L1679.3 1025.3L1683.3 1025.4L1687.2 1025.4L1691.1 1025.4L1695.0 1025.5L1698.9 1025.5L1702.8 1025.6L1706.7 1025.6L1710.6 1025.6L1714.5 1025.7L1718.4 1025.7L1722.4 1025.7L1726.3 1025.8L1730.2 1025.8L1734.1 1025.9L1738.0 1025.9L1741.9 1025.9L1745.8 1026.0L1749.7 1026.0L1753.6 1026.0L1757.6 1026.1L1761.5 1026.1L1765.4 1026.2L1769.3 1026.2L1773.2 1026.2L1777.1 1026.3L1781.0 1026.3L1784.9 1026.4L1788.8 1026.4L1792.7 1026.4L1796.7 1026.5L1800.6 1026.5L1804.5 1026.6L1808.4 1026.6L1812.3 1026.6L1816.2 1026.7L1820.1 1026.7L1824.0 1026.8L1827.9 1026.8L1831.8 1026.9L1835.8 1026.9L1839.7 1026.9L1843.6 1027.0L1847.5 1027.0L1851.4 1027.1L1855.3 1027.1L1859.2 1027.2L1863.1 1027.2L1867.0 1027.2L1871.0 1027.3L1874.9 1027.3L1878.8 1027.4L1882.7 1027.4L1886.6 1027.5L1890.5 1027.5L1894.4 1027.6L1898.3 1027.6L1902.2 1027.7L1906.1 1027.7L1910.1 1027.7L1914.0 1027.8L1917.9 1027.8L1921.8 1027.9L1925.7 1027.9L1929.6 1028.0L1933.5 1028.0L1937.4 1028.1L1941.3 1028.1L1945.2 1028.2L1949.2 1028.2L1953.1 1028.3L1957.0 1028.3L1960.9 1028.4L1964.8 1028.4L1968.7 1028.5L1972.6 1028.5L1976.5 1028.6L1980.4 1028.6L1984.3 1028.7L1988.3 1028.7L1992.2 1028.8L1996.1 1028.8L2000.0 1028.9L2003.9 1028.9L2007.8 1029.0L2011.7 1029.0L2015.6 1029.1L2019.5 1029.1L2023.4 1029.2L2027.4 1029.2L2031.3 1029.3L2035.2 1029.3L2039.1 1029.4L2043.0 1029.4"/>
</g>
<g id="ylabels" text-anchor="end">
<text class="tick" x="221" y="68" textLength="75.0" lengthAdjust="spacingAndGlyphs">25</text>
<text class="tick" x="221" y="313" textLength="75.0" lengthAdjust="spacingAndGlyphs">20</text>
<text class="tick" x="221" y="558" textLength="75.0" lengthAdjust="spacingAndGlyphs">15</text>
<text class="tick" x="221" y="803" textLength="75.0" lengthAdjust="spacingAndGlyphs">10</text>
<text class="tick" x="221" y="1048" textLength="37.5" lengthAdjust="spacingAndGlyphs">5</text>
<text class="tick" x="221" y="1293" textLength="37.5" lengthAdjust="spacingAndGlyphs">0</text>
</g>
<g id="xlabels" text-anchor="middle">
<text class="tick" x="290.5" y="1388" textLength="37.5" lengthAdjust="spacingAndGlyphs">0</text>
<text class="tick" x="615.6" y="1388" textLength="112.5" lengthAdjust="spacingAndGlyphs">500</text>
<text class="tick" x="943" y="1388" textLength="150.0" lengthAdjust="spacingAndGlyphs">1000</text>
<text class="tick" x="1270.5" y="1388" textLength="150.0" lengthAdjust="spacingAndGlyphs">1500</text>
<text class="tick" x="1597.7" y="1388" textLength="150.0" lengthAdjust="spacingAndGlyphs">2000</text>
<text class="tick" x="1922.7" y="1388" textLength="150.0" lengthAdjust="spacingAndGlyphs">2500</text>
<text class="tick" x="2248.6" y="1388" textLength="150.0" lengthAdjust="spacingAndGlyphs">3000</text>
</g>
<text class="ttl" y="1508"><tspan x="1157" textLength="177" lengthAdjust="spacingAndGlyphs">Time</tspan><tspan> </tspan><tspan x="1349" textLength="88" lengthAdjust="spacingAndGlyphs">(s)</tspan></text>
<text class="ttl" transform="translate(84.25 660.5) rotate(-90)"><tspan x="-168" textLength="77" lengthAdjust="spacingAndGlyphs">M</tspan><tspan> </tspan><tspan x="-77" textLength="243" lengthAdjust="spacingAndGlyphs">(dN.m)</tspan></text>
<g id="legend">
<rect x="963" y="133" width="165" height="5" fill="#000000"/>
<text class="leg" x="1141" y="158" textLength="107" lengthAdjust="spacingAndGlyphs">REF</text>
<rect x="1388" y="133" width="165" height="5" fill="#00ff00"/>
<text class="leg" x="1565" y="158" textLength="139" lengthAdjust="spacingAndGlyphs">Gly5</text>
<rect x="1813" y="133" width="165" height="5" fill="#00b0f0"/>
<text class="leg" x="1990" y="158" textLength="174" lengthAdjust="spacingAndGlyphs">Gly10</text>
<rect x="963" y="243" width="165" height="5" fill="#ff0000"/>
<text class="leg" x="1141" y="268" textLength="174" lengthAdjust="spacingAndGlyphs">Gly15</text>
<rect x="1388" y="243" width="165" height="5" fill="#008000"/>
<text class="leg" x="1565" y="268" textLength="174" lengthAdjust="spacingAndGlyphs">Gly20</text>
</g>
</g>
</svg>
</body>
</html>
